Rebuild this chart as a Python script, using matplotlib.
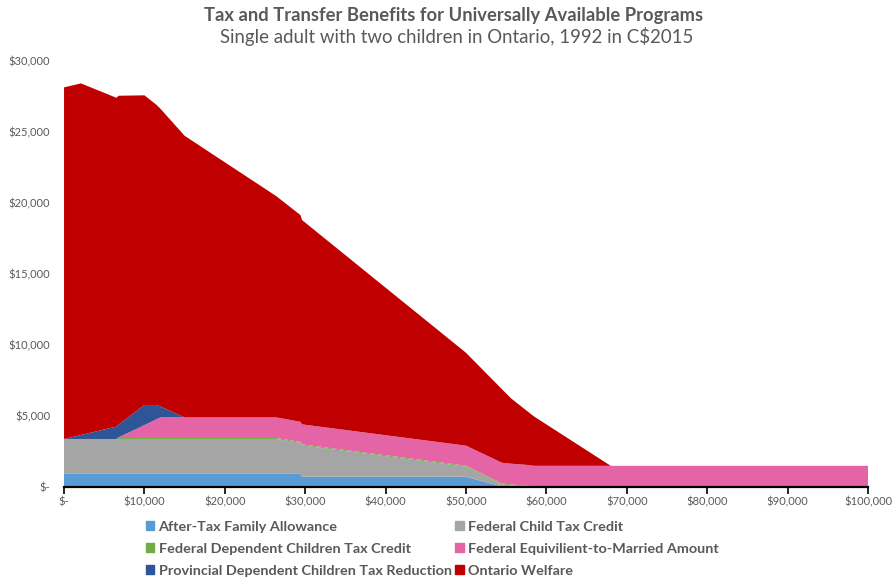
import matplotlib.pyplot as plt
from matplotlib.patches import Patch
from matplotlib.ticker import FuncFormatter

plt.rcParams['font.family'] = ['Lato', 'DejaVu Sans']

# employment income points (C$2015)
income = [0, 2100, 6500, 6800, 10000, 11500, 12000, 15000, 26400, 29400,
          29600, 50000, 54500, 55600, 57500, 58500, 68000, 100000]

# benefit by program at each income point
family_allowance = [930, 930, 930, 930, 930, 930, 930, 930, 930, 930,
                    690, 690, 0, 0, 0, 0, 0, 0]
child_tax_credit = [2420, 2420, 2420, 2420, 2420, 2420, 2420, 2420, 2420, 2150,
                    2210, 710, 150, 80, 20, 0, 0, 0]
dependent_credit = [0, 0, 0, 70, 70, 70, 70, 70, 70, 70,
                    70, 70, 70, 70, 50, 0, 0, 0]
equiv_married = [0, 0, 0, 50, 910, 1320, 1450, 1450, 1450, 1410,
                 1410, 1410, 1450, 1460, 1460, 1460, 1460, 1460]
prov_reduction = [0, 280, 870, 900, 1410, 1000, 770, 0, 0, 0,
                  0, 0, 0, 0, 0, 0, 0, 0]
ontario_welfare = [24760, 24760, 23160, 23150, 21810, 21140, 20960, 19830, 15580, 14560,
                   14390, 6540, 5170, 4600, 3830, 3460, 0, 0]

labels = ['After-Tax Family Allowance', 'Federal Child Tax Credit',
          'Federal Dependent Children Tax Credit', 'Federal Equivilient-to-Married Amount',
          'Provincial Dependent Children Tax Reduction', 'Ontario Welfare']
colors = ['#5B9BD5', '#A5A5A5', '#70AD47', '#E464A6', '#2E5597', '#C00000']

fig = plt.figure(figsize=(8.93, 5.82), dpi=100)
ax = fig.add_axes([0.0717, 0.164, 0.9003, 0.732])

ax.stackplot(income, family_allowance, child_tax_credit, dependent_credit,
             equiv_married, prov_reduction, ontario_welfare,
             colors=colors, linewidth=0)

ax.set_xlim(0, 100000)
ax.set_ylim(0, 30000)
ax.set_xticks(range(0, 100001, 10000))
ax.set_yticks(range(0, 30001, 5000))

money = FuncFormatter(lambda v, p: '$-' if v == 0 else '${:,.0f}'.format(v))
ax.xaxis.set_major_formatter(money)
ax.yaxis.set_major_formatter(money)

for s in ['top', 'right', 'left']:
    ax.spines[s].set_visible(False)
ax.spines['bottom'].set_linewidth(1.6)
ax.spines['bottom'].set_color('#000000')
ax.tick_params(axis='x', direction='out', length=5, width=1.2, colors='#000000',
               labelcolor='#595959', labelsize=8, pad=2)
ax.tick_params(axis='y', length=0, labelcolor='#595959', labelsize=8, pad=10)

fig.text(0.508, 0.974, 'Tax and Transfer Benefits for Universally Available Programs',
         ha='center', va='center', fontsize=13.2, fontweight='bold', color='#595959')
fig.text(0.511, 0.937, 'Single adult with two children in Ontario, 1992 in C$2015',
         ha='center', va='center', fontsize=13.4, color='#595959')

# legend laid out row by row, two columns
handles = [Patch(color=c) for c in colors]
order = [0, 2, 4, 1, 3, 5]
leg = fig.legend([handles[i] for i in order], [labels[i] for i in order],
                 ncol=2, loc='center', bbox_to_anchor=(0.484, 0.057), frameon=False,
                 handlelength=0.6, handleheight=0.6, handletextpad=0.3,
                 columnspacing=0.25, labelspacing=0.7,
                 prop={'size': 10.4, 'weight': 'bold'})
for t in leg.get_texts():
    t.set_color('#595959')

fig.savefig('out.png', dpi=100)
